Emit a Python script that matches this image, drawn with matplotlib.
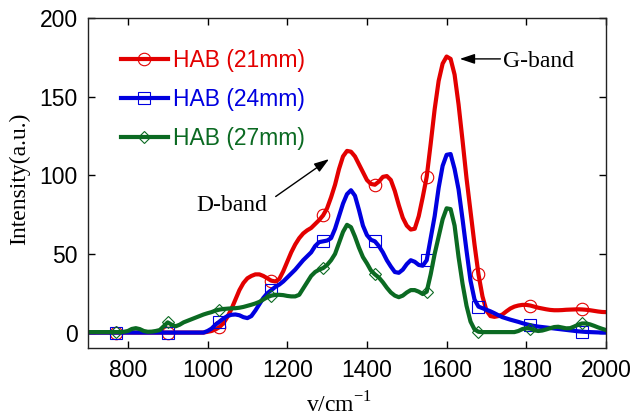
import numpy as np
import matplotlib
matplotlib.use("Agg")
import matplotlib.pyplot as plt

plt.rcParams["font.family"] = ["Liberation Sans", "DejaVu Sans"]

# Raman shift grid (cm^-1)
wavenumber = np.arange(700, 2001, 10)

# Intensity (a.u.) at each grid point
hab_21 = [
    0, 0, 0, 0, 0, 0, 0, 0, 0, 0,                      # 700-790
    0, 0, 0, 0, 0, 0, 0, 0, 0, 0,                      # 800-890
    0, 0, 0, 0, 0, 0, 0, 0, 0, 0,                      # 900-990
    0.5, 1, 2, 3.5, 6, 10, 15, 21, 27, 31.5,           # 1000-1090
    34.5, 36, 37, 37, 36, 34.5, 33, 32.5, 34, 39,      # 1100-1190
    45, 51, 56, 60, 63, 65, 66.5, 69, 71.5, 74.5,      # 1200-1290
    79, 86, 94, 104, 112, 115.5, 115, 112, 107, 102,   # 1300-1390
    97, 94.5, 94, 96, 99, 99.5, 97, 90, 81, 73,        # 1400-1490
    68, 65.5, 66, 74, 86, 99, 120, 142, 160, 171,      # 1500-1590
    175.5, 174, 164, 145, 122, 98, 77, 56, 37, 23,     # 1600-1690
    14, 10.5, 10, 10.5, 11.5, 13.5, 15.3, 16.5, 17.2, 17.6,  # 1700-1790
    17.6, 17.2, 16.5, 15.8, 15.3, 14.8, 14.4, 14.2, 14.2, 14.3,  # 1800-1890
    14.5, 14.6, 14.7, 14.8, 14.7, 14.5, 14.2, 13.8, 13.4, 13.1,  # 1900-1990
    13,                                                # 2000
]
hab_24 = [
    0, 0, 0, 0, 0, 0, 0, 0, 0, 0,
    0, 0, 0, 0, 0, 0, 0, 0, 0, 0,
    0, 0, 0, 0, 0, 0, 0, 0, 0, 0,
    1, 2.5, 5, 7, 9, 10.5, 11.3, 11.5, 11, 9.8,
    9.2, 10.5, 14, 18, 22, 25, 27, 29, 30.5, 32.5,
    35, 37.5, 40, 43, 46, 48.5, 51, 55, 57.5, 58,
    58.5, 60, 66, 74, 82, 88, 90.5, 87, 78, 68,
    62, 59, 58, 55, 51, 46, 42, 38.5, 38, 40,
    43.5, 46, 45, 43, 42.5, 46, 60, 74, 92, 106,
    113, 113.5, 104, 91, 72, 52, 33, 21, 16.5, 15.5,
    14.5, 13.5, 12.3, 11, 9.8, 9, 8.2, 7.5, 6.8, 6,
    5.3, 4.7, 4.2, 3.8, 3.5, 3.2, 2.9, 2.6, 2.3, 2,
    1.7, 1.4, 1.1, 0.8, 0.6, 0.4, 0.3, 0.2, 0.1, 0,
    0,
]
hab_27 = [
    0.3, 0.3, 0.3, 0.3, 0.3, 0.3, 0.3, 0.3, 0.3, 0.5,
    1, 2.3, 2.8, 2.2, 1, 0.5, 0.6, 1, 1.6, 4,
    6.5, 5, 4, 5, 6.5, 7.5, 8.5, 9.5, 10.5, 11.5,
    12.3, 13, 14, 14.6, 15, 15.2, 15.4, 15.5, 15.8, 16.3,
    17, 17.7, 18.5, 19.5, 21, 22.5, 23.5, 24, 24, 23.8,
    23.3, 23, 23, 24, 28, 32, 36, 38.5, 40, 41,
    43, 46, 50, 57, 64, 68.5, 67, 61, 54, 48,
    44, 39.5, 37, 35, 32, 28.5, 25.5, 23.5, 22.5, 23.5,
    25.5, 27, 27, 26, 24.5, 26, 37, 50, 61, 72,
    79, 78.5, 68, 48, 31, 17, 7, 2, 0.5, 0.3,
    0.3, 0.3, 0.3, 0.3, 0.3, 0.3, 0.3, 0.3, 1, 2.2,
    2.8, 2.5, 1.5, 1, 1.3, 2, 2.8, 3.5, 3.7, 3.2,
    2.7, 2.8, 3.8, 5, 5.8, 5.8, 5.2, 4.3, 3.3, 2.4,
    1.6,
]

labels = ["HAB (21mm)", "HAB (24mm)", "HAB (27mm)"]
colors = ["#e30000", "#0000e0", "#0b6a22"]
markers = ["o", "s", "D"]
marker_sizes = [9.0, 8.5, 6.5]

fig = plt.figure(figsize=(6.3, 4.19), dpi=100)
W, H = 630, 419
left, right, top, bottom = 88, 606, 18, 348.3
ax = fig.add_axes([left / W, 1 - bottom / H, (right - left) / W, (bottom - top) / H])

for series, lab, col, mk, ms in zip([hab_21, hab_24, hab_27], labels, colors, markers, marker_sizes):
    ax.plot(wavenumber, series, color=col, lw=3.0, label=lab,
            marker=mk, markevery=(7, 13), markersize=ms,
            markerfacecolor="none", markeredgecolor=col, markeredgewidth=0.8)

ax.set_xlim(700, 2000)
ax.set_ylim(-10, 200)
ax.set_xticks(np.arange(800, 2001, 200))
ax.set_yticks(np.arange(0, 201, 50))
ax.tick_params(direction="in", length=5, width=1, top=True, right=True,
               labelsize=16.5, pad=7.5)
for sp in ax.spines.values():
    sp.set_linewidth(1)
    sp.set_color("#222222")

serif = ["Liberation Serif", "DejaVu Serif"]
ax.set_ylabel("Intensity(a.u.)", fontsize=17, family=serif)
ax.yaxis.set_label_coords(-0.112, 0.513)
ax.set_xlabel(r"v/cm$^{\mathregular{-1}}$", fontsize=17, family=serif, va="baseline")
ax.xaxis.set_label_coords(0.4855, -0.193)

# Band annotations
ax.text(1060, 81, "D-band", fontsize=17, family=serif, ha="center", va="center")
ax.annotate("", xy=(1305, 110.3), xytext=(1171, 86.5),
            arrowprops=dict(arrowstyle="-|>,head_length=0.9,head_width=0.3",
                            color="black", lw=1, mutation_scale=10,
                            shrinkA=0, shrinkB=0))
ax.text(1742, 172.5, "G-band", fontsize=17, family=serif, ha="left", va="center")
ax.annotate("", xy=(1633, 174), xytext=(1735, 174),
            arrowprops=dict(arrowstyle="-|>,head_length=0.9,head_width=0.3",
                            color="black", lw=1, mutation_scale=10,
                            shrinkA=0, shrinkB=0))

ax.legend(loc="upper left", bbox_to_anchor=(121 / W, 1 - 49 / H),
          bbox_transform=fig.transFigure, frameon=False, fontsize=16.5,
          handlelength=2.05, handletextpad=0.22, labelspacing=0.7,
          borderpad=0, borderaxespad=0, numpoints=1, labelcolor="linecolor")

fig.savefig("out.png", dpi=100)
